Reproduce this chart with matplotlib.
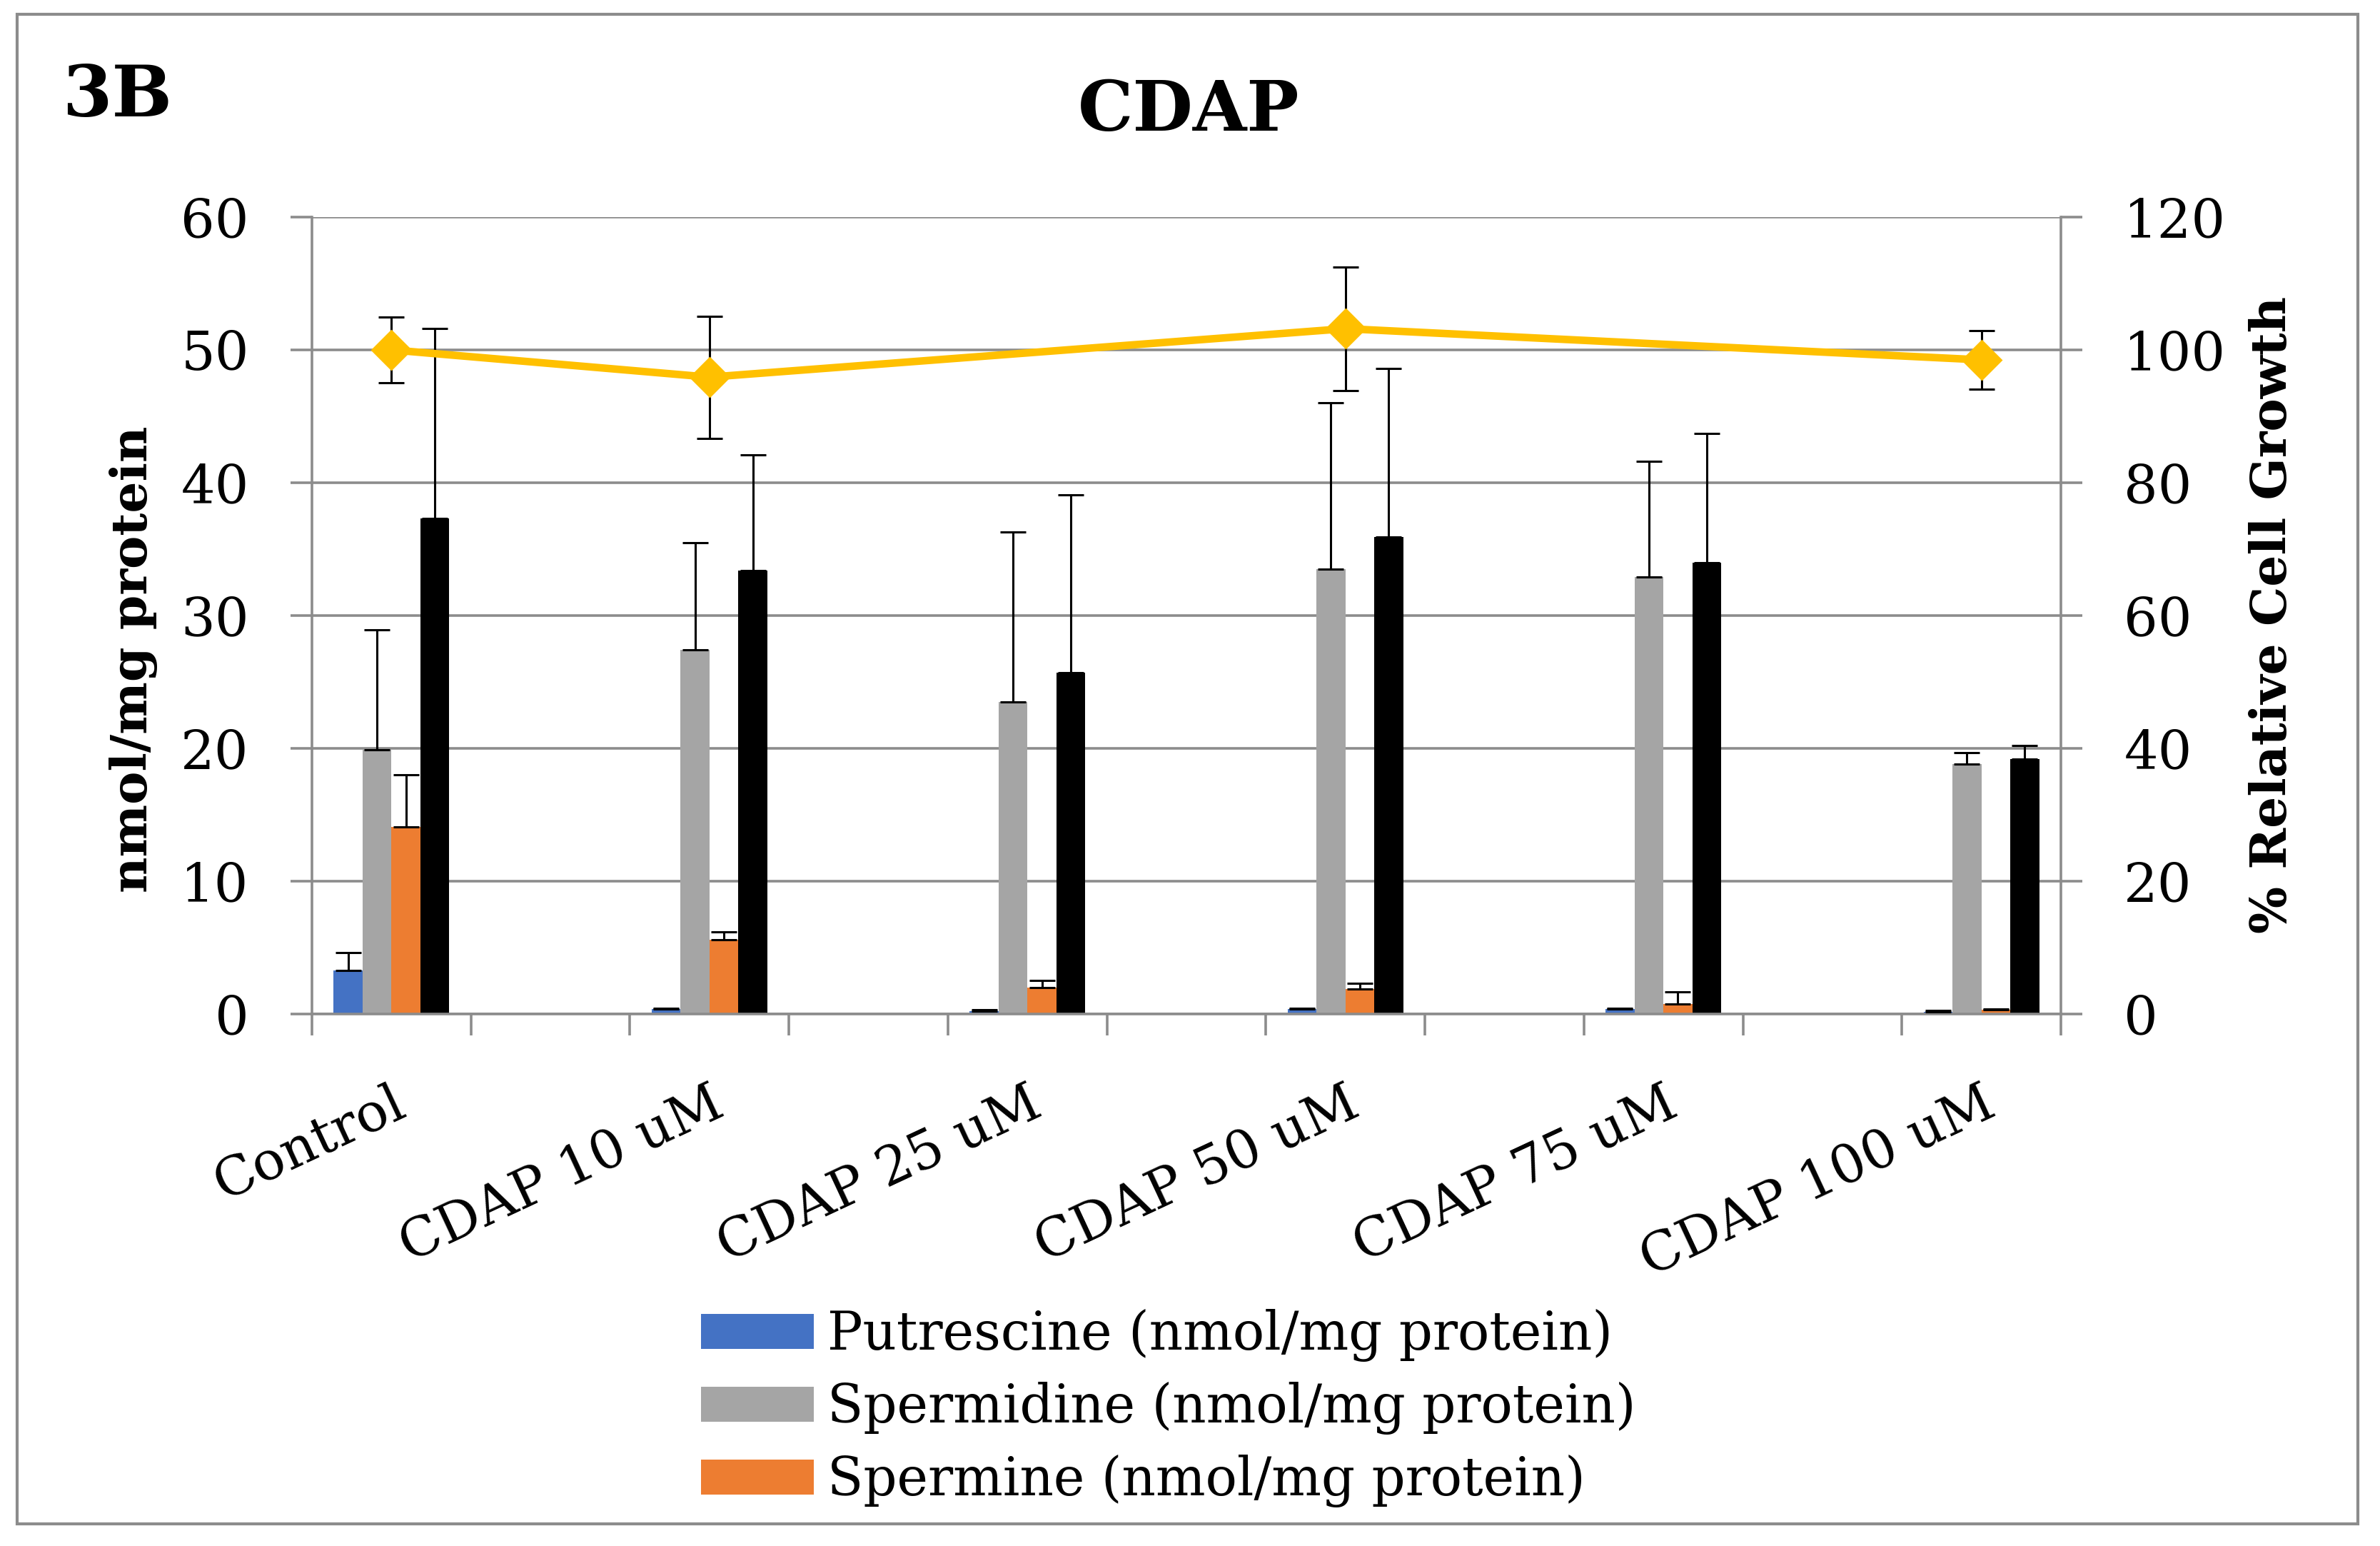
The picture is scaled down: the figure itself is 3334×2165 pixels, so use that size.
import matplotlib
matplotlib.use("Agg")
import matplotlib.pyplot as plt
from matplotlib.patches import Rectangle, Patch
import numpy as np

# ---------------- data ----------------
categories = ["Control", "CDAP 10 uM", "CDAP 25 uM", "CDAP 50 uM", "CDAP 75 uM", "CDAP 100 uM"]
putrescine = [3.3, 0.35, 0.2, 0.35, 0.35, 0.15]
putrescine_err = [1.3, 0.1, 0.1, 0.1, 0.1, 0.1]
spermidine = [19.9, 27.4, 23.5, 33.5, 32.9, 18.8]
spermidine_err = [9.0, 8.1, 12.8, 12.5, 8.7, 0.9]
spermine = [14.1, 5.6, 2.0, 1.9, 0.75, 0.3]
spermine_err = [3.9, 0.6, 0.55, 0.4, 0.9, 0.1]
total = [37.3, 33.4, 25.7, 35.9, 34.0, 19.2]
total_err = [14.3, 8.7, 13.4, 12.7, 9.7, 1.0]
growth = [100.0, 95.9, None, 103.2, None, 98.5]
growth_err = [4.9, 9.2, None, 9.3, None, 4.4]

left_ticks = [0, 10, 20, 30, 40, 50, 60]
right_ticks = [0, 20, 40, 60, 80, 100, 120]

series_names = ["Putrescine (nmol/mg protein)", "Spermidine (nmol/mg protein)",
                "Spermine (nmol/mg protein)", None]
series_colors = ["#4472C4", "#A5A5A5", "#ED7D31", "#000000"]

# ---------------- style ----------------
FONT = ["DejaVu Serif"]
plt.rcParams["font.family"] = FONT
GRID = "#8C8C8C"
W, H, DPI = 3334, 2165, 200

fig = plt.figure(figsize=(W / DPI, H / DPI), dpi=DPI)
ax = fig.add_axes([437 / W, 1 - 1420 / H, (2887 - 437) / W, (1420 - 304) / H])

n_slots = 2 * len(categories) - 1
slot_pos = np.arange(len(categories)) * 2 + 0.5
bw = 1 / 5.5
offsets = np.array([-1.5, -0.5, 0.5, 1.5]) * bw

vals = [putrescine, spermidine, spermine, total]
errs = [putrescine_err, spermidine_err, spermine_err, total_err]
for k in range(4):
    ax.bar(slot_pos + offsets[k], vals[k], width=bw, color=series_colors[k], zorder=2,
           label=series_names[k] if series_names[k] else "_nolegend_")
    ax.errorbar(slot_pos + offsets[k], vals[k],
                yerr=[np.zeros(len(errs[k])), errs[k]], fmt="none",
                ecolor="black", elinewidth=1.1, capsize=6.5, capthick=1.1, zorder=3)

ax.set_xlim(0, n_slots)
ax.set_ylim(0, 60)
ax.set_yticks(left_ticks)
ax.yaxis.grid(True, color=GRID, linewidth=1.3, zorder=0)
ax.set_axisbelow(True)
ax.tick_params(axis="y", which="major", length=10.8, width=1.3, color=GRID,
               labelsize=27, pad=21, direction="out")
ax.set_xticks(slot_pos)
ax.set_xticklabels(categories, rotation=25, ha="right", va="top",
                   rotation_mode="anchor", fontsize=27)
ax.tick_params(axis="x", which="major", length=0, pad=32)
ax.set_xticks(np.arange(0, n_slots + 1), minor=True)
ax.tick_params(axis="x", which="minor", length=10.8, width=1.3, color=GRID, direction="out")
for s in ["left", "right", "bottom", "top"]:
    ax.spines[s].set_color(GRID)
    ax.spines[s].set_linewidth(1.3)
ax.spines["top"].set_visible(False)

# secondary axis
ax2 = ax.twinx()
ax2.set_ylim(0, 120)
ax2.set_yticks(right_ticks)
ax2.tick_params(axis="y", length=10.8, width=1.3, color=GRID, labelsize=27, pad=21)
for s in ["left", "right", "bottom", "top"]:
    ax2.spines[s].set_visible(False)
gx = [slot_pos[i] for i in range(len(growth)) if growth[i] is not None]
gy = [growth[i] for i in range(len(growth)) if growth[i] is not None]
ge = [growth_err[i] for i in range(len(growth)) if growth[i] is not None]
ax2.errorbar(gx, gy, yerr=ge, fmt="none", ecolor="black", elinewidth=1.1,
             capsize=6.5, capthick=1.1, zorder=3)
ax2.plot(gx, gy, color="#FFC000", linewidth=3.8, marker="D", markersize=14,
         markerfacecolor="#FFC000", markeredgecolor="#FFC000", zorder=4)

# texts
fig.text(187 / W, 1 - 923 / H, "nmol/mg protein", rotation=90, fontsize=25,
         fontweight="bold", ha="center", va="center")
fig.text(3183 / W, 1 - 861 / H, "% Relative Cell Growth", rotation=90, fontsize=25,
         fontweight="bold", ha="center", va="center")
fig.text(1665 / W, 1 - 156 / H, "CDAP", fontsize=35, fontweight="bold",
         ha="center", va="center")
fig.text(87 / W, 1 - 135 / H, "3B", fontsize=36, fontweight="bold",
         ha="left", va="center")

# legend
handles = [Patch(facecolor=series_colors[k], edgecolor="none") for k in range(3)]
fig.legend(handles, series_names[:3], loc="upper left",
           bbox_to_anchor=(982 / W, 1 - 1833 / H), frameon=False, fontsize=26.5,
           handlelength=2.15, handleheight=0.65, handletextpad=0.25,
           labelspacing=0.38, borderpad=0, borderaxespad=0)

# outer border
fig.patches.append(Rectangle((24 / W, 1 - 2134 / H), (3303 - 24) / W, (2134 - 20) / H,
                             transform=fig.transFigure, fill=False,
                             edgecolor=GRID, linewidth=1.5))

fig.savefig("out.png", dpi=DPI)
